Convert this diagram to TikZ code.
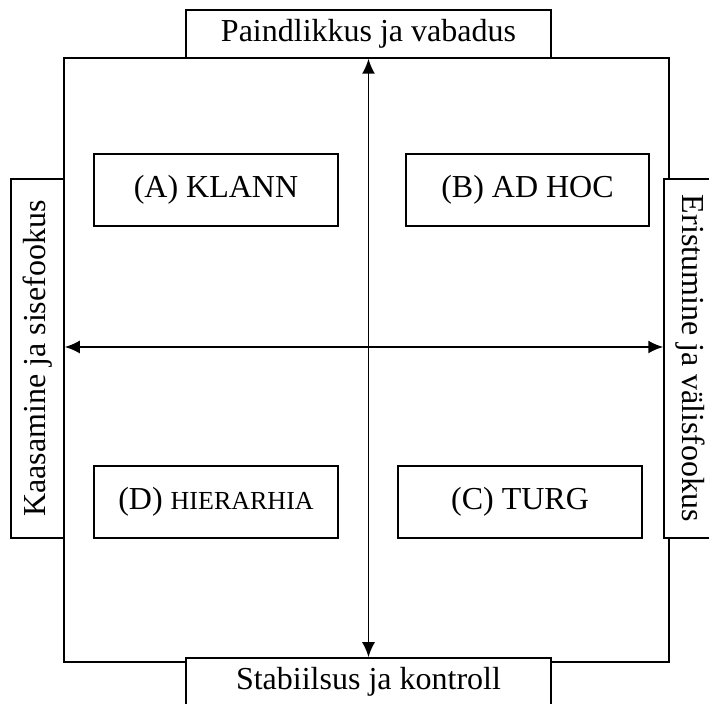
\documentclass[tikz,border=0pt]{standalone}
\usepackage{fontspec}
\setmainfont{Liberation Serif}
\usetikzlibrary{arrows.meta, positioning}

\begin{document}
\begin{tikzpicture}[
    x=0.5pt, y=-0.5pt,
    axislabel/.style={rectangle, draw, line width=0.75pt, minimum width=182.5pt, minimum height=24pt, inner sep=0pt, text centered, font=\fontsize{16}{19}\selectfont},
    sidelabel/.style={rectangle, draw, line width=0.75pt, minimum width=179.5pt, minimum height=26.5pt, inner sep=0pt, text centered, font=\fontsize{16}{19}\selectfont},
    quadrant/.style={rectangle, draw, line width=0.75pt, minimum height=36pt, inner sep=0pt, text centered, font=\fontsize{16}{19}\selectfont},
    axis/.style={line width=0.9pt, {Latex[length=7.5pt,width=6.5pt]}-{Latex[length=7.5pt,width=6.5pt]}}
]
\useasboundingbox (0,0) rectangle (709,704);
% Outer frame
\draw[line width=0.75pt] (64,58) rectangle (669,662);
% Axis labels
\node[axislabel, fill=white] (flex) at (368.5,34) {Paindlikkus ja vabadus};
\node[axislabel, fill=white] (stab) at (368.5,682) {Stabiilsus ja kontroll};
\node[sidelabel, fill=white, rotate=90] (inner) at (37.5,358.5) {Kaasamine ja sisefookus};
\node[sidelabel, fill=white, rotate=-90] (outer) at (690.5,358.5) {Eristumine ja välisfookus};
% Quadrants
\node[quadrant, minimum width=122pt] (clan) at (216,190) {(A) KLANN};
\node[quadrant, minimum width=121.5pt] (adhoc) at (527.5,190) {(B) AD HOC};
\node[quadrant, minimum width=122pt] (hier) at (216,502) {(D) {\fontsize{13}{16}\selectfont HIERARHIA}};
\node[quadrant, minimum width=122pt] (market) at (520,502) {(C) TURG};
% Axes
\coordinate (mid) at (369,347);
\draw[axis] (flex.south) -- (stab.north);
\draw[axis] (inner.south |- mid) -- (outer.south |- mid);
\end{tikzpicture}
\end{document}
